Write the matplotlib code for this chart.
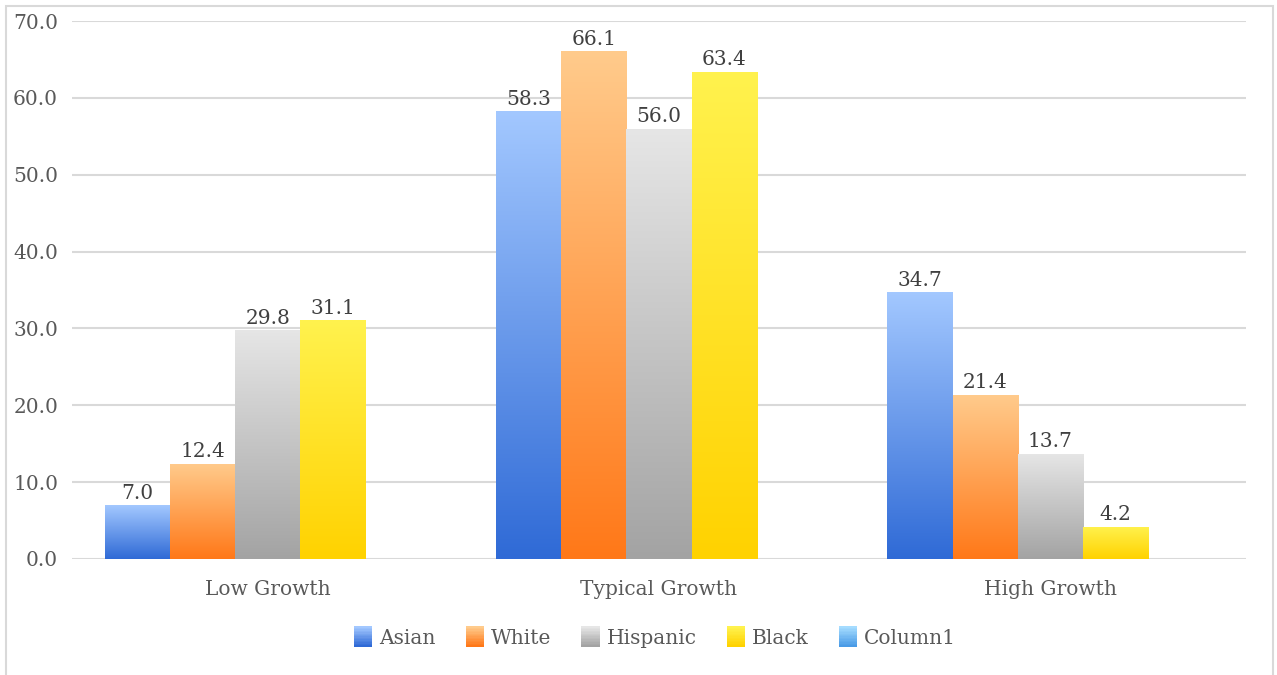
import numpy as np
import matplotlib.pyplot as plt
from matplotlib.colors import LinearSegmentedColormap
from matplotlib.patches import Rectangle
from matplotlib.legend_handler import HandlerBase

categories = ['Low Growth', 'Typical Growth', 'High Growth']
series = ['Asian', 'White', 'Hispanic', 'Black', 'Column1']
asian = [7.0, 58.3, 34.7]
white = [12.4, 66.1, 21.4]
hispanic = [29.8, 56.0, 13.7]
black = [31.1, 63.4, 4.2]
column1 = [None, None, None]

# (top colour, bottom colour) per series
grads = [('#a3c8ff', '#2f6ad6'),
         ('#ffcb8c', '#ff7818'),
         ('#e6e6e6', '#a3a3a3'),
         ('#fff24e', '#ffd200'),
         ('#a5dcff', '#4a9be6')]

plt.rcParams['font.family'] = ['DejaVu Serif']
txt = '#595959'
fs = 14.5

fig = plt.figure(figsize=(12.77, 6.75), dpi=100)
ax = fig.add_axes([72/1277, 1-559/675, 1174/1277, 538/675])

# outer chart border
fig.add_artist(Rectangle((6/1277, -0.1), 1267/1277, 1.1-6/675, transform=fig.transFigure,
                         fill=False, ec='#d9d9d9', lw=1.5))

x = np.arange(len(categories))
width = 1/6
data = [asian, white, hispanic, black, column1]
grad = np.linspace(0, 1, 256).reshape(-1, 1)

for i, vals in enumerate(data):
    cmap = LinearSegmentedColormap.from_list(series[i], [grads[i][1], grads[i][0]])
    for xi, v in zip(x, vals):
        if v is None:
            continue
        left = xi - 2.5*width + i*width
        rect = ax.bar(left, v, width, align='edge', color='none', lw=0)[0]
        im = ax.imshow(grad, extent=(left, left+width, 0, v), origin='lower',
                       cmap=cmap, aspect='auto', zorder=2)
        im.set_clip_path(rect)
        ax.text(left + width/2, v + 0.3, '%.1f' % v, ha='center', va='bottom',
                fontsize=fs, color='#404040')

ax.set_xlim(-0.5, 2.5)
ax.set_ylim(0, 70)
ax.set_yticks(np.arange(0, 71, 10))
ax.set_yticklabels(['%.1f' % t for t in np.arange(0, 71, 10)])
ax.set_xticks(x)
ax.set_xticklabels(categories)
ax.tick_params(length=0, labelsize=fs, colors=txt)
ax.tick_params(axis='y', pad=10)
ax.tick_params(axis='x', pad=15)
ax.grid(axis='y', color='#d9d9d9', lw=1.5)
ax.set_axisbelow(True)
for s in ax.spines.values():
    s.set_visible(False)


class GradHandler(HandlerBase):
    def __init__(self, top, bottom):
        super().__init__()
        self.cmap = LinearSegmentedColormap.from_list('h', [bottom, top])

    def create_artists(self, legend, orig, xd, yd, w, h, fontsize, trans):
        arts = []
        n = 14
        hh = h * 1.45
        y0 = yd + h/2 - hh/2
        for k in range(n):
            r = Rectangle((xd, y0 + k*hh/n), w, hh/n + 0.3,
                          color=self.cmap(k/(n-1)), lw=0, transform=trans)
            arts.append(r)
        return arts


handles = [Rectangle((0, 0), 1, 1) for _ in series]
hmap = {hd: GradHandler(*g) for hd, g in zip(handles, grads)}
leg = fig.legend(handles, series, handler_map=hmap, loc='center',
                 bbox_to_anchor=(655/1277, 1-638/675), ncol=5, frameon=False,
                 fontsize=fs, handlelength=0.9, handletextpad=0.35, columnspacing=1.5)
for t in leg.get_texts():
    t.set_color(txt)

fig.savefig('out.png', dpi=100)
